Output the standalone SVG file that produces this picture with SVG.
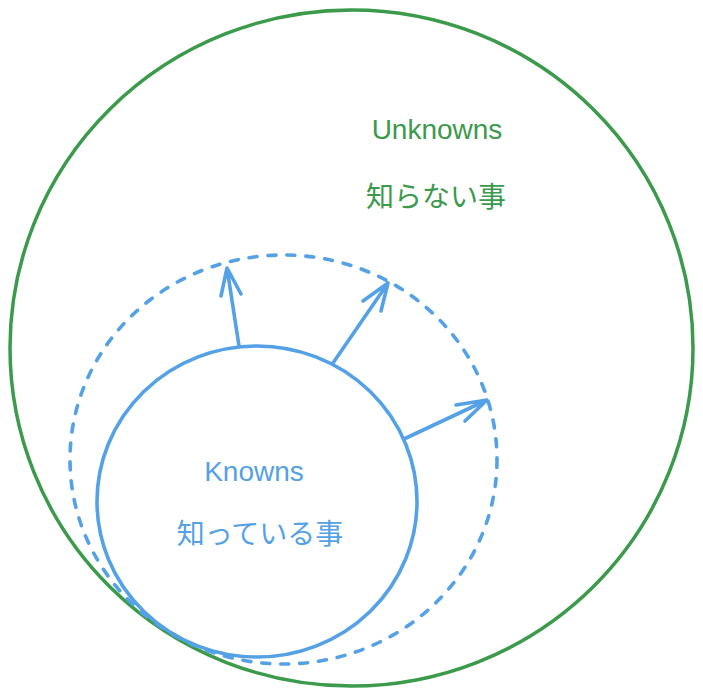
<svg xmlns="http://www.w3.org/2000/svg" width="703" height="697" viewBox="0 0 703 697">
<style>
.green{fill:none;stroke:#3b9a4b;stroke-width:3.5}
.blue{fill:none;stroke:#55a1e6;stroke-width:3.6;stroke-linecap:round;stroke-linejoin:round}
.dash{stroke-dasharray:8 11}
.t{font-family:"Liberation Sans","Noto Sans CJK JP",sans-serif;font-size:28px;text-anchor:middle}
.tg{fill:#3b9a4b}
.tb{fill:#55a1e6}
</style>
<rect width="703" height="697" fill="#ffffff"/>
<g id="unknowns">
<ellipse class="green" cx="351.5" cy="348" rx="341.5" ry="338"/>
<text class="t tg" x="437" y="139">Unknowns</text>
<text class="t tg" x="436" y="207">知らない事</text>
</g>
<g id="frontier">
<ellipse class="blue dash" cx="283.5" cy="459.5" rx="213.5" ry="204.5"/>
</g>
<g id="knowns">
<ellipse class="blue" cx="257" cy="501.5" rx="160" ry="155.5"/>
<text class="t tb" x="254" y="481">Knowns</text>
<text class="t tb" x="260" y="544">知っている事</text>
</g>
<g id="connectors">
<path class="blue" d="M239 346 L227 268 M221 296 L227 268 L241 294"/>
<path class="blue" d="M333 363 L388 283 M363 301 L388 283 L381 311"/>
<path class="blue" d="M404 439 L487 400 M456 405 L487 400 L465 421"/>
</g>
</svg>
